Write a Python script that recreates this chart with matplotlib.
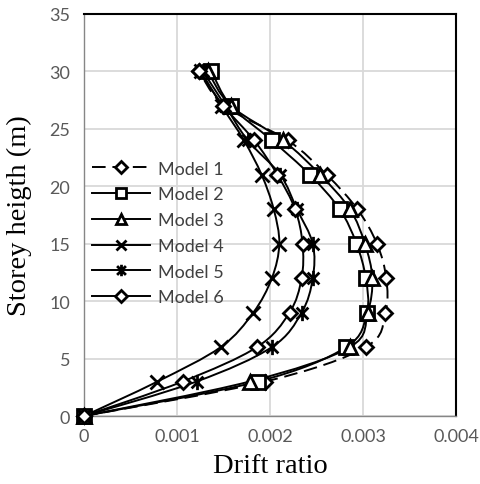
import numpy as np
import matplotlib
matplotlib.use('Agg')
import matplotlib.pyplot as plt
from matplotlib.path import Path
from matplotlib.patches import PathPatch
from matplotlib.lines import Line2D

# ── Data: storey drift ratio per model ─────────────────────────────────────
height = [0, 3, 6, 9, 12, 15, 18, 21, 24, 27, 30]
model_1 = [0, 0.00195, 0.00303, 0.00324, 0.00325, 0.00315, 0.00294, 0.00261, 0.00219, 0.00151, 0.00124]
model_2 = [0, 0.00187, 0.00282, 0.00304, 0.00303, 0.00293, 0.00275, 0.00243, 0.00202, 0.00158, 0.00137]
model_3 = [0, 0.00178, 0.00286, 0.00305, 0.00310, 0.00302, 0.00286, 0.00254, 0.00214, 0.00158, 0.00133]
model_4 = [0, 0.00079, 0.00147, 0.00182, 0.00202, 0.00210, 0.00204, 0.00191, 0.00172, 0.00148, 0.00126]
model_5 = [0, 0.00121, 0.00202, 0.00234, 0.00246, 0.00246, 0.00229, 0.00211, 0.00176, 0.00152, 0.00128]
model_6 = [0, 0.00106, 0.00186, 0.00221, 0.00234, 0.00235, 0.00227, 0.00208, 0.00183, 0.00150, 0.00124]

labels = ['Model 1', 'Model 2', 'Model 3', 'Model 4', 'Model 5', 'Model 6']

# x with a vertical bar, like the spreadsheet "star" marker
star = Path([(-1, -1), (1, 1), (-1, 1), (1, -1), (0, -1.3), (0, 1.3)],
            [Path.MOVETO, Path.LINETO, Path.MOVETO, Path.LINETO, Path.MOVETO, Path.LINETO])

styles = [
    dict(marker='D', ms=7.5, ls=(0, (7, 3.5))),
    dict(marker='s', ms=10, ls='-'),
    dict(marker='^', ms=10, ls='-'),
    dict(marker='x', ms=10.5, ls='-'),
    dict(marker=star, ms=11, ls='-'),
    dict(marker='D', ms=7.5, ls='-'),
]


def smooth_path(xs, ys):
    # cubic bezier through every point (Catmull-Rom style control points)
    pts = np.column_stack([xs, ys]).astype(float)
    n = len(pts)
    verts = [pts[0]]
    codes = [Path.MOVETO]
    for i in range(n - 1):
        p0 = pts[max(i - 1, 0)]
        p1 = pts[i]
        p2 = pts[i + 1]
        p3 = pts[min(i + 2, n - 1)]
        c1 = p1 + (p2 - p0) / 6.0
        c2 = p2 - (p3 - p1) / 6.0
        verts += [c1, c2, p2]
        codes += [Path.CURVE4] * 3
    return Path(verts, codes)


fig = plt.figure(figsize=(4.81, 4.85), dpi=100)
ax = fig.add_axes([84 / 481, 1 - 417 / 485, 372 / 481, 402 / 485])

series = [model_1, model_2, model_3, model_4, model_5, model_6]
handles = []
for vals, st, lab in zip(series, styles, labels):
    patch = PathPatch(smooth_path(vals, height), fill=False, edgecolor='black',
                      linewidth=1.4, linestyle=st['ls'], zorder=3)
    ax.add_patch(patch)
    ax.plot(vals, height, linestyle='none', marker=st['marker'], ms=st['ms'],
            mfc='white', mec='black', mew=2.0, zorder=4, clip_on=False)
    handles.append(Line2D([], [], color='black', lw=1.4, linestyle=st['ls'],
                          marker=st['marker'], ms=st['ms'] * 0.75, mfc='white',
                          mec='black', mew=2.0))

ax.set_xlim(0, 0.004)
ax.set_ylim(0, 35)
ax.set_xticks([0, 0.001, 0.002, 0.003, 0.004])
ax.set_xticklabels(['0', '0.001', '0.002', '0.003', '0.004'])
ax.set_yticks(range(0, 36, 5))

ax.grid(True, color='#d9d9d9', linewidth=1.3)
ax.set_axisbelow(True)
ax.tick_params(length=0, labelsize=13, labelcolor='#595959')
ax.tick_params(axis='x', pad=9)
ax.tick_params(axis='y', pad=10)
for lab in ax.get_xticklabels() + ax.get_yticklabels():
    lab.set_family('Lato')

for side in ('top', 'right'):
    ax.spines[side].set_color('black')
    ax.spines[side].set_linewidth(1.5)
for side in ('left', 'bottom'):
    ax.spines[side].set_color('#868686')
    ax.spines[side].set_linewidth(1.0)

ax.set_xlabel('Drift ratio', family='Liberation Serif', fontsize=20.5, labelpad=6)
ax.set_ylabel('Storey heigth (m)', family='Liberation Serif', fontsize=20.5, labelpad=12)

leg = ax.legend(handles, labels, loc='upper left', bbox_to_anchor=(0.022, 0.635),
                frameon=False, prop={'family': 'Lato', 'size': 13},
                handlelength=3.2, handletextpad=0.45, labelspacing=0.54,
                borderaxespad=0.0, borderpad=0.0)
for t in leg.get_texts():
    t.set_color('#404040')

fig.savefig('out.png', dpi=100)
